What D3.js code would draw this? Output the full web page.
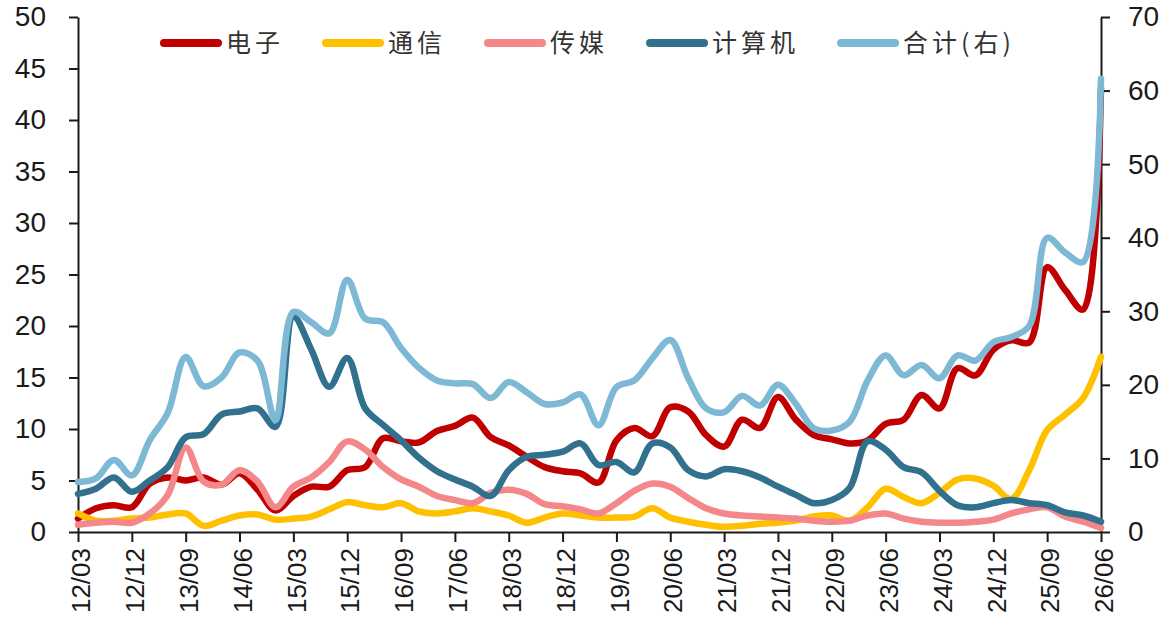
<!DOCTYPE html>
<html>
<head>
    <meta charset="utf-8">
    <title>industry_lines</title>
    <script type="text/javascript" src="https://cdn.jsdelivr.net/npm/d3@7/dist/d3.min.js"></script>
    <style>
        body { margin:0; background:#fff; }
        .axis path, .axis line { stroke:#1a1a1a; stroke-width:2px; }
        .axis text { font-family:"Liberation Sans", Arial, sans-serif; fill:#1a1a1a; }
        .y_axis text { font-size:28px; }
        .x_axis text { font-size:26px; }
        .series { fill:none; stroke-width:6.5px; stroke-linejoin:round; stroke-linecap:round; }
        .legend_line { stroke-width:8px; stroke-linecap:round; }
        .legend_text { font-family:"Noto Sans CJK SC", sans-serif; font-size:25px; fill:#333; letter-spacing:4px; }
    </style>
</head>
<body>
<div id="svg_div"></div>
<script type="text/javascript">
    var quarters = ["12/03","12/06","12/09","12/12","13/03","13/06","13/09","13/12","14/03","14/06","14/09","14/12",
        "15/03","15/06","15/09","15/12","16/03","16/06","16/09","16/12","17/03","17/06","17/09","17/12",
        "18/03","18/06","18/09","18/12","19/03","19/06","19/09","19/12","20/03","20/06","20/09","20/12",
        "21/03","21/06","21/09","21/12","22/03","22/06","22/09","22/12","23/03","23/06","23/09","23/12",
        "24/03","24/06","24/09","24/12","25/03","25/06","25/09","25/12","26/03","26/06"];
    var xTicks = ["12/03","12/12","13/09","14/06","15/03","15/12","16/09","17/06","18/03","18/12",
        "19/09","20/06","21/03","21/12","22/09","23/06","24/03","24/12","25/09","26/06"];
    var leftTicks = [0,5,10,15,20,25,30,35,40,45,50];
    var rightTicks = [0,10,20,30,40,50,60,70];

    var dianzi = [1.3,2.3,2.6,2.4,4.7,5.3,5.0,5.3,4.6,5.7,4.1,2.1,3.5,4.4,4.4,6.0,6.3,9.1,8.8,8.7,
        9.8,10.3,11.1,9.2,8.4,7.3,6.3,5.9,5.7,4.8,8.9,10.1,9.3,12.1,11.7,9.4,8.3,10.9,10.1,13.1,
        10.9,9.4,9.0,8.6,8.9,10.5,10.9,13.3,12.0,15.9,15.2,17.7,18.6,18.4,25.7,23.5,21.6,43.1];
    var tongxin = [1.8,1.1,1.1,1.3,1.4,1.7,1.8,0.6,1.1,1.6,1.7,1.2,1.3,1.5,2.2,2.9,2.6,2.4,2.8,2.0,
        1.8,2.0,2.3,2.0,1.6,0.9,1.4,1.8,1.6,1.4,1.4,1.5,2.3,1.4,1.0,0.7,0.5,0.6,0.8,0.9,
        1.1,1.5,1.6,1.1,2.4,4.2,3.4,2.8,3.8,5.1,5.2,4.5,3.2,6.0,9.9,11.4,13.0,17.0];
    var chuanmei = [0.7,0.9,1.0,0.9,1.8,3.6,8.2,4.9,4.6,6.0,4.9,2.4,4.4,5.3,6.8,8.8,8.0,6.3,5.1,4.4,
        3.5,3.1,2.8,3.8,4.1,3.7,2.7,2.5,2.2,1.8,2.8,4.0,4.7,4.4,3.3,2.3,1.8,1.6,1.5,1.4,
        1.3,1.1,1.0,1.1,1.6,1.8,1.3,1.0,0.9,0.9,1.0,1.2,1.8,2.2,2.4,1.5,1.0,0.4];
    var jisuanji = [3.7,4.2,5.3,3.9,5.0,6.3,9.2,9.5,11.4,11.7,12.0,10.2,20.9,17.7,14.1,16.9,12.0,10.4,8.9,7.2,
        5.9,5.1,4.4,3.5,6.0,7.3,7.5,7.8,8.6,6.5,6.8,5.8,8.6,8.2,6.0,5.4,6.1,5.9,5.3,4.4,
        3.6,2.8,3.1,4.3,8.8,8.0,6.3,5.8,4.0,2.6,2.4,2.8,3.1,2.8,2.6,1.9,1.6,1.0];
    var heji = [6.8,7.3,9.8,7.7,12.5,16.2,23.8,19.8,21.0,24.4,23.3,15.2,29.9,28.5,27.0,34.3,29.0,28.5,25.0,22.3,
        20.6,20.2,20.1,18.2,20.4,19.0,17.4,17.6,18.7,14.5,19.7,20.6,23.6,26.1,20.9,16.8,16.3,18.5,17.2,20.0,
        17.4,14.1,13.8,15.0,20.6,24.0,21.3,22.7,20.9,24.0,23.3,25.8,26.5,28.0,40.0,38.0,36.7,61.6];

    var names = ["电子","通信","传媒","计算机","合计(右)"];
    var colors = ["#C00000","#FFC000","#F4878A","#31718E","#7DB8D5"];

    var width = 1164,
        height = 626,
        x_left = 78,
        x_right = 1101,
        y_top = 17,
        y_bottom = 532;

    var svg = d3.select("#svg_div").append("svg")
        .attr("width", width)
        .attr("height", height);

    var x = d3.scalePoint().domain(quarters).range([x_left, x_right]);
    var yl = d3.scaleLinear().domain([0, 50]).range([y_bottom, y_top]);
    var yr = d3.scaleLinear().domain([0, 70]).range([y_bottom, y_top]);

    // axes
    svg.append("g")
        .attr("class", "axis x_axis")
        .attr("transform", "translate(0," + y_bottom + ")")
        .call(d3.axisBottom(x).tickValues(xTicks).tickSize(10).tickSizeOuter(0))
        .selectAll("text")
        .attr("transform", "rotate(-90)")
        .attr("x", -16)
        .attr("y", 0)
        .attr("dy", "0.45em")
        .style("text-anchor", "end");

    svg.append("g")
        .attr("class", "axis y_axis")
        .attr("transform", "translate(" + x_left + ",0)")
        .call(d3.axisLeft(yl).tickValues(leftTicks).tickSize(9).tickSizeOuter(0).tickPadding(23));

    svg.append("g")
        .attr("class", "axis y_axis")
        .attr("transform", "translate(" + x_right + ",0)")
        .call(d3.axisRight(yr).tickValues(rightTicks).tickSize(9).tickSizeOuter(0).tickPadding(18));

    // lines
    var lineL = d3.line()
        .x(function(d, i){ return x(quarters[i]); })
        .y(function(d){ return yl(d); })
        .curve(d3.curveCatmullRom.alpha(0.5));
    var lineR = d3.line()
        .x(function(d, i){ return x(quarters[i]); })
        .y(function(d){ return yr(d); })
        .curve(d3.curveCatmullRom.alpha(0.5));

    var leftSeries = [dianzi, tongxin, chuanmei, jisuanji];
    svg.selectAll(".series_l")
        .data(leftSeries)
        .enter()
        .append("path")
        .attr("class", "series series_l")
        .attr("stroke", function(d, i){ return colors[i]; })
        .attr("d", lineL);

    svg.append("path")
        .datum(heji)
        .attr("class", "series series_r")
        .attr("stroke", colors[4])
        .attr("d", lineR);

    // legend
    var legend_g = svg.append("g").attr("class", "legend_g");
    var lx = 164, ly = 43;
    names.forEach(function(n, i){
        legend_g.append("line")
            .attr("class", "legend_line")
            .attr("x1", lx).attr("x2", lx + 54)
            .attr("y1", ly).attr("y2", ly)
            .attr("stroke", colors[i]);
        var t = legend_g.append("text")
            .attr("class", "legend_text")
            .attr("x", lx + 62)
            .attr("y", ly)
            .attr("dy", "0.36em")
            .text(n);
        lx = lx + 62 + t.node().getBBox().width + 42;
    });
</script>
</body>
</html>
